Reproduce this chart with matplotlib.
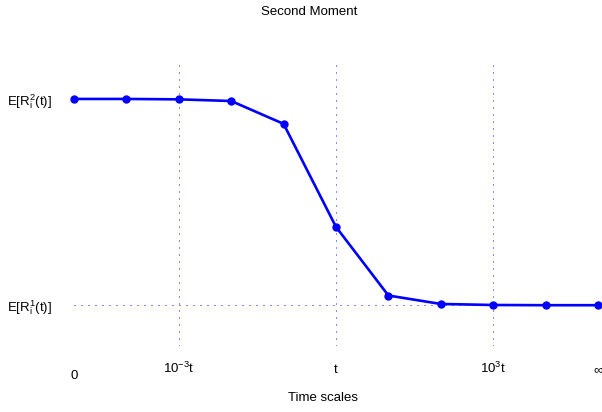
import matplotlib
matplotlib.use("Agg")
import matplotlib.pyplot as plt
import matplotlib.transforms as mtransforms

plt.rcParams['font.family'] = ['Liberation Sans', 'DejaVu Sans']
plt.rcParams['mathtext.fontset'] = 'custom'
plt.rcParams['mathtext.rm'] = 'Liberation Sans'
plt.rcParams['mathtext.it'] = 'Liberation Sans'

# data: 11 time scales, second moment values (in units where E[R^1]=1, E[R^2]=2)
scale_idx = [0, 1, 2, 3, 4, 5, 6, 7, 8, 9, 10]
moment = [2.0, 2.0, 1.998, 1.99, 1.879, 1.379, 1.046, 1.005, 1.0, 0.999, 0.999]

xtick_pos = [0, 2, 5, 8, 10]
xtick_labels = ['0', r'10$^{-3}$t', 't', r'10$^{3}$t', '\u221e']
ytick_pos = [1, 2]
ytick_labels = [r'E[R$_{\rm i}^{\rm 1}$(t)]', r'E[R$_{\rm i}^{\rm 2}$(t)]']

fig = plt.figure(figsize=(6.02, 4.12), dpi=100)
ax = fig.add_axes([74/602, 1-346/412, 524/602, 286/412])

ax.plot(scale_idx, moment, '-o', color='#0000ff', lw=1.9, ms=5, clip_on=False, zorder=3)

ax.set_xlim(0, 10)
ax.set_ylim(0.801, 2.189)
ax.set_xticks(xtick_pos)
ax.set_xticklabels(xtick_labels, fontsize=9.5)
ax.set_yticks(ytick_pos)
ax.set_yticklabels(ytick_labels, fontsize=9.5)
ax.tick_params(length=0)
ax.tick_params(axis='x', pad=19.4)
ax.tick_params(axis='y', pad=15.8)
for lbl in ax.get_xticklabels():
    lbl.set_va('baseline')
for s in ax.spines.values():
    s.set_visible(False)

ax.grid(True, color='#8a8aff', lw=0.75, ls=(0, (1.3, 5.5)), antialiased=False)
gl = ax.get_xgridlines()
gl[0].set_visible(False)
gl[-1].set_visible(False)
ax.get_ygridlines()[1].set_visible(False)

# the "0" label sits a little lower than the others
zero = ax.get_xticklabels()[0]
zero.set_transform(zero.get_transform() + mtransforms.ScaledTranslation(0, -0.06, fig.dpi_scale_trans))

fig.text(309/602, 1-12/412, 'Second Moment', ha='center', va='center', fontsize=9.5)
fig.text(323/602, 1-398/412, 'Time scales', ha='center', va='center', fontsize=9.5)

fig.savefig('out.png', dpi=100)
